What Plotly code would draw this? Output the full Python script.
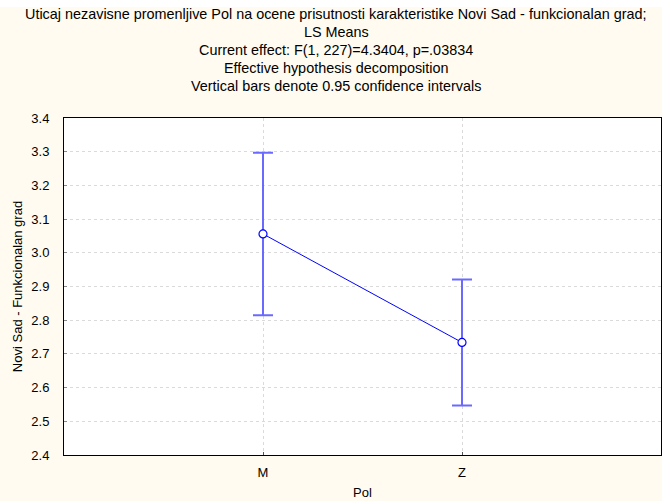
import plotly.graph_objects as go

categories = ["M", "Z"]
means = [3.056, 2.734]
ci_half = [0.241, 0.187]
y_ticks = [2.4, 2.5, 2.6, 2.7, 2.8, 2.9, 3.0, 3.1, 3.2, 3.3, 3.4]
title_lines = [
    "Uticaj nezavisne promenljive Pol na ocene prisutnosti karakteristike Novi Sad - funkcionalan grad;",
    "LS Means",
    "Current effect: F(1, 227)=4.3404, p=.03834",
    "Effective hypothesis decomposition",
    "Vertical bars denote 0.95 confidence intervals",
]

W, H = 662, 501
L, R, T, B = 64, 1, 118, 46
plot_w = W - L - R
plot_h = H - T - B

fig = go.Figure()
fig.add_trace(go.Scatter(
    x=list(range(len(categories))), y=means,
    mode="lines+markers",
    line=dict(color="#0000FF", width=1),
    marker=dict(symbol="circle", size=8, color="white",
                line=dict(color="#0000FF", width=1.2)),
    error_y=dict(type="data", array=ci_half, visible=True,
                 color="#6A6AFF", thickness=2, width=10),
    showlegend=False,
))

annotations = []
line_centers = [14, 32, 50, 68, 86]
for txt, yc in zip(title_lines, line_centers):
    annotations.append(dict(
        text=txt, xref="paper", yref="paper",
        x=(336 - L) / plot_w, y=1 + (T - yc) / plot_h,
        xanchor="center", yanchor="middle", showarrow=False,
        font=dict(family="Liberation Sans, Arial", size=14.4, color="black"),
    ))

fig.update_layout(
    width=W, height=H,
    margin=dict(l=L, r=R, t=T, b=B),
    paper_bgcolor="#FFFBF0",
    plot_bgcolor="white",
    font=dict(family="Liberation Sans, Arial", size=13, color="black"),
    annotations=annotations,
    shapes=[dict(type="rect", xref="paper", yref="paper",
                 x0=-L / plot_w, x1=1 + R / plot_w,
                 y0=1 + (T - 7) / plot_h, y1=1 + T / plot_h + 0.01,
                 fillcolor="white", line=dict(width=0), layer="below")],
    xaxis=dict(
        tickmode="array", tickvals=list(range(len(categories))), ticktext=categories,
        range=[-1, 2],
        showgrid=True, gridcolor="#DADADA", griddash="dot", gridwidth=1,
        showline=True, linecolor="black", linewidth=1, mirror=True,
        ticks="inside", ticklen=3, tickcolor="#555555",
        ticklabelstandoff=5,
        zeroline=False,
        title=dict(text="Pol", standoff=9, font=dict(size=13)),
    ),
    yaxis=dict(
        tickmode="array", tickvals=y_ticks, ticktext=[f"{v:.1f}" for v in y_ticks],
        range=[2.4, 3.4],
        showgrid=True, gridcolor="#DADADA", griddash="dot", gridwidth=1,
        showline=True, linecolor="black", linewidth=1, mirror=True,
        ticks="inside", ticklen=3, tickcolor="#888888",
        ticklabelstandoff=11,
        zeroline=False,
        title=dict(text="Novi Sad - Funkcionalan grad", standoff=5, font=dict(size=13)),
    ),
)

fig.write_html("out.html")
